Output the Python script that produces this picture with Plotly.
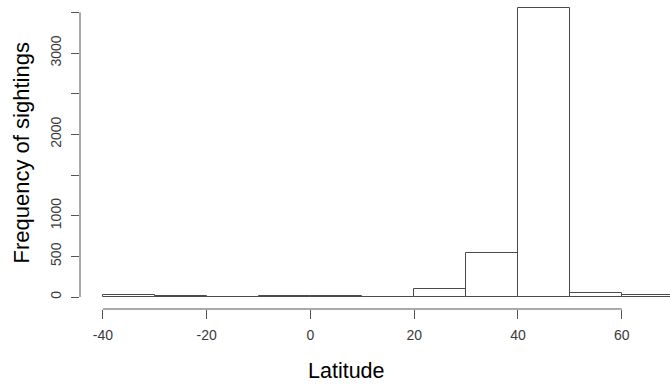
import plotly.graph_objects as go

bin_starts = [-40, -30, -20, -10, 0, 10, 20, 30, 40, 50, 60]
bin_width = 10
counts = [25, 10, 2, 8, 8, 3, 97, 540, 3553, 50, 20]
x_ticks = [-40, -20, 0, 20, 40, 60]
x_ticklabels = ["-40", "-20", "0", "20", "40", "60"]
y_ticks = [0, 500, 1000, 1500, 2000, 2500, 3000, 3500]
y_ticklabels = ["0", "500", "1000", "", "2000", "", "3000", ""]

centers = [s + bin_width / 2 for s in bin_starts]

fig = go.Figure()
fig.add_trace(go.Bar(
    x=centers, y=counts, width=[bin_width] * len(counts),
    marker=dict(color="white", line=dict(color="#4a4a4a", width=1)),
    hoverinfo="skip",
))

axis_font = dict(family="Liberation Sans, Arial, sans-serif", size=14, color="#3a3a3a")

fig.update_layout(
    width=670, height=385,
    margin=dict(l=80, r=0, t=0, b=76),
    paper_bgcolor="white", plot_bgcolor="white",
    showlegend=False,
    bargap=0,
    xaxis=dict(range=[-44.4, 69.3], tickvals=x_ticks, ticktext=x_ticklabels,
               ticks="outside", ticklen=9, ticklabelstandoff=4,
               tickcolor="#555555", tickwidth=1, showgrid=False, zeroline=False,
               showline=False, tickfont=axis_font),
    yaxis=dict(range=[-147.5, 3652], tickvals=y_ticks, ticktext=y_ticklabels,
               ticks="outside", ticklen=8, ticklabelstandoff=4,
               tickcolor="#555555", tickwidth=1,
               tickangle=-90, showgrid=False, zeroline=False, showline=False,
               tickfont=axis_font),
)

# R-style detached axis lines spanning the tick range
fig.add_shape(type="line", xref="x", yref="paper", x0=x_ticks[0], x1=x_ticks[-1],
              y0=0, y1=0, line=dict(color="#555555", width=1))
fig.add_shape(type="line", xref="paper", yref="y", x0=0, x1=0,
              y0=y_ticks[0], y1=y_ticks[-1], line=dict(color="#555555", width=1))

fig.add_annotation(text="Latitude", xref="paper", yref="paper", x=0.4525, y=0,
                   yshift=-62, xanchor="center", yanchor="middle", showarrow=False,
                   font=dict(family="Liberation Sans, Arial, sans-serif", size=21.5, color="black"))
fig.add_annotation(text="Frequency of sightings", xref="paper", yref="paper",
                   x=0, xshift=-58.5, y=0.505, textangle=-90,
                   xanchor="center", yanchor="middle", showarrow=False,
                   font=dict(family="Liberation Sans, Arial, sans-serif", size=22, color="black"))

fig.write_html("out.html", post_script="document.body.style.margin='0';",
               config={"displayModeBar": False})
